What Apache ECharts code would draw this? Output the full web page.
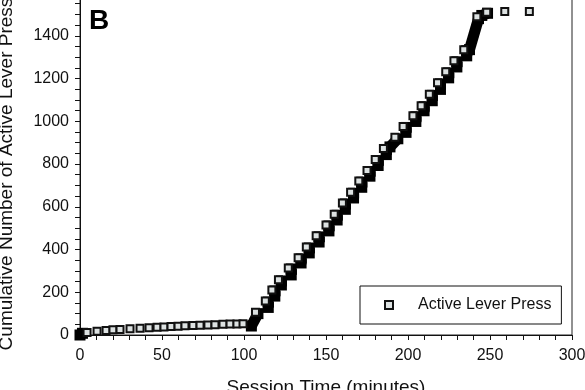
<!DOCTYPE html>
<html>
<head>
<meta charset="utf-8">
<script src="https://cdn.jsdelivr.net/npm/echarts@6/dist/echarts.min.js"></script>
<style>html,body{margin:0;padding:0;background:#fff}#c{width:585px;height:390px}</style>
</head>
<body>
<div id="c"></div>
<script>
// Early, slow phase: individual press markers (time in min, cumulative count)
const flatT = [4.3, 10.4, 15.9, 20.1, 24.4, 30.5, 36.6, 42.1, 47, 51.2, 55.5, 59.8, 64, 68.9, 73.2, 78, 82.3, 87.2, 91.5, 95.7, 99.4];
const flatN = [12, 17, 21, 24, 26, 29, 32, 34, 36, 38, 40, 41, 43, 44, 46, 47, 48, 50, 51, 52, 53];
// Visible (light) markers at the top of each burst step
const stepT = [107, 113, 117, 121, 127, 133, 138, 144, 150, 155, 160, 165, 170, 175, 180, 185, 192, 197, 203, 208, 213, 218, 223, 228, 234, 242, 248, 259, 274];
const stepN = [106, 159, 211, 258, 314, 361, 412, 464, 515, 565, 618, 668, 720, 770, 821, 873, 925, 976, 1026, 1073, 1126, 1180, 1231, 1283, 1335, 1489, 1510, 1513, 1514];
// Dense overlapping press clusters (appear solid black): start/end of each cluster
const blobT0 = [0, 104.5, 114.8, 118.8, 122.8, 128.8, 134.8, 139.8, 145.8, 151.8, 156.8, 161.8, 166.8, 171.8, 176.8, 181.8, 186.8, 189, 198.8, 204.8, 209.8, 214.8, 219.8, 224.8, 229.8, 235.8, 237.5, 245];
const blobN0 = [0, 42, 129, 182, 234, 281, 337, 384, 435, 487, 538, 588, 641, 691, 743, 793, 844, 880, 948, 999, 1049, 1096, 1149, 1203, 1254, 1306, 1335, 1495];
const blobT1 = [1.5, 108.5, 114.8, 118.8, 122.8, 128.8, 134.8, 139.8, 145.8, 151.8, 156.8, 161.8, 166.8, 171.8, 176.8, 181.8, 186.8, 193.8, 198.8, 204.8, 209.8, 214.8, 219.8, 224.8, 229.8, 235.8, 243, 248.5];
const blobN1 = [8, 100, 154, 206, 253, 309, 356, 407, 459, 510, 560, 613, 663, 715, 765, 816, 868, 918, 971, 1021, 1068, 1121, 1175, 1226, 1278, 1330, 1480, 1505];

const xTicks = {min: 0, max: 300, interval: 50};
const yTicks = {min: 0, max: 1600, interval: 200};

const FONT = "'Liberation Sans', Arial, sans-serif";
const chart = echarts.init(document.getElementById('c'), null, {renderer: 'canvas'});

const series = [];
for (let i = 0; i < blobT0.length; i++) {
  series.push({
    type: 'line',
    name: 'cluster' + i,
    data: [[blobT0[i], blobN0[i]], [blobT1[i], blobN1[i]]],
    symbol: 'rect',
    symbolSize: 11,
    showSymbol: true,
    itemStyle: {color: '#000', borderWidth: 0},
    lineStyle: {color: '#000', width: 11},
    z: 2,
    silent: true,
    clip: false,
    animation: false
  });
}
const pts = [];
for (let i = 0; i < flatT.length; i++) pts.push([flatT[i], flatN[i]]);
for (let i = 0; i < stepT.length; i++) pts.push([stepT[i], stepN[i]]);
series.push({
  type: 'scatter',
  name: 'Active Lever Press',
  data: pts,
  symbol: 'rect',
  symbolSize: 7,
  itemStyle: {color: '#dde2e2', borderColor: '#111', borderWidth: 2, opacity: 1},
  z: 5,
  clip: false,
  animation: false
});

const plain = v => String(v);

chart.setOption({
  animation: false,
  backgroundColor: '#fff',
  grid: {left: 80, right: 13, top: -7, bottom: 55, containLabel: false, outerBoundsMode: 'none',
         show: true, borderColor: '#222', borderWidth: 1, backgroundColor: 'transparent'},
  xAxis: {
    type: 'value', min: xTicks.min, max: xTicks.max, interval: xTicks.interval,
    axisLine: {show: true, lineStyle: {color: '#111', width: 1}},
    axisTick: {show: true, inside: false, length: 5, lineStyle: {color: '#111'}},
    minorTick: {show: true, splitNumber: 5, length: 5, lineStyle: {color: '#111'}},
    splitLine: {show: false},
    axisLabel: {color: '#111', fontFamily: FONT, fontSize: 16, margin: 13, formatter: plain},
    name: 'Session Time (minutes)', nameLocation: 'middle', nameGap: 43,
    nameTextStyle: {fontFamily: FONT, fontSize: 19, color: '#111'}
  },
  yAxis: {
    type: 'value', min: yTicks.min, max: yTicks.max, interval: yTicks.interval,
    axisLine: {show: true, lineStyle: {color: '#111', width: 1}},
    axisTick: {show: true, inside: false, length: 5, lineStyle: {color: '#111'}},
    minorTick: {show: true, splitNumber: 4, length: 5, lineStyle: {color: '#111'}},
    splitLine: {show: false},
    axisLabel: {color: '#111', fontFamily: FONT, fontSize: 16, margin: 11, formatter: plain},
    name: 'Cumulative Number of Active Lever Presses', nameLocation: 'middle', nameGap: 64,
    nameTextStyle: {fontFamily: FONT, fontSize: 19, color: '#111'}
  },
  legend: {
    data: ['Active Lever Press'],
    left: 360, top: 286,
    orient: 'horizontal',
    padding: [11, 10, 11, 24],
    borderColor: '#111', borderWidth: 1,
    itemWidth: 8, itemHeight: 8,
    textStyle: {fontFamily: FONT, fontSize: 16, color: '#111', padding: [0, 0, 0, 20]},
    selectedMode: false
  },
  graphic: [{
    type: 'text', left: 89, top: 7,
    style: {text: 'B', font: "bold 28px 'Liberation Sans', Arial, sans-serif", fill: '#000'}
  }],
  series: series
});
</script>
</body>
</html>
